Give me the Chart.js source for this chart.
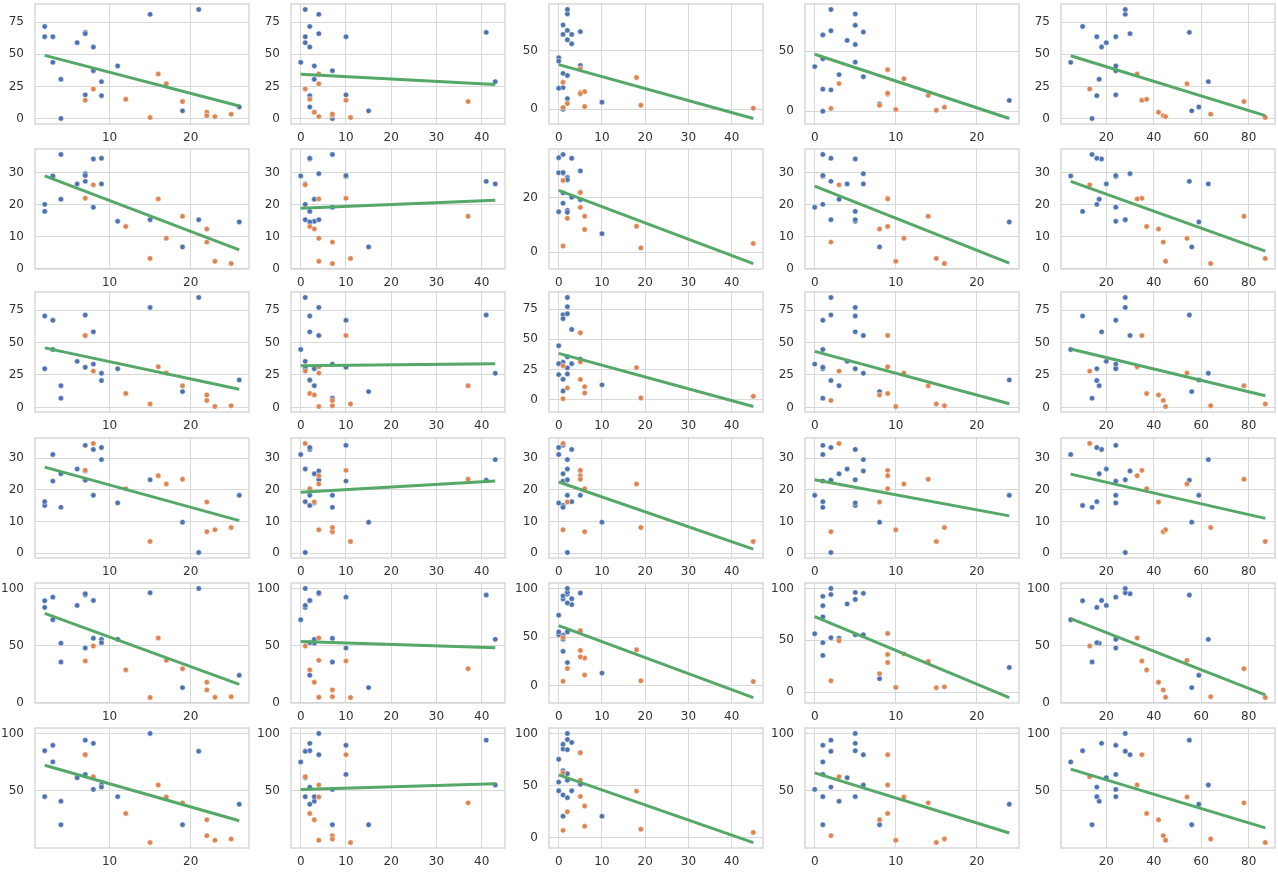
<!DOCTYPE html>
<html><head><meta charset="utf-8">
<script src="https://cdn.jsdelivr.net/npm/chart.js@4.4.1/dist/chart.umd.min.js"></script>
<style>
html,body{margin:0;padding:0;background:#fff;overflow:hidden;width:1278px;height:875px;position:relative}
canvas{position:absolute}
</style></head><body>
<script>
// ---- data: 19 blue points, 11 orange points; 5 x variables (columns), 6 y variables (rows)
const blueX1 = [2,2,3,3,4,4,6,7,7,7,8,8,9,9,11,15,19,21,26];
const blueX2 = [2,1,10,0,3,7,1,41,4,10,2,7,43,2,3,4,15,1,2];
const blueX3 = [1,3,1,0,1,1,2,2,5,1,3,5,2,0,0,2,10,2,2];
const blueX4 = [5,1,1,1,3,1,4,2,6,1,5,0,6,2,5,5,8,2,24];
const blueX5 = [10,16,24,5,17,14,20,55,30,24,18,24,63,16,24,28,56,28,59];
const blueY1 = [71.6,63.6,63.6,43.7,30.5,0,59,67,66,18.4,55.6,37.2,28.7,17.8,40.9,81,6,84.8,9];
const blueY2 = [17.9,20.1,28.8,29,21.7,35.7,26.5,27.3,29.7,29.1,34.3,19.2,26.5,34.5,14.8,15.3,6.8,15.3,14.6];
const blueY3 = [70.4,29.8,67.1,44.6,16.8,7.1,35.5,71.2,55.4,30.9,58.2,33.4,26.3,20.7,29.8,77,12.2,84.7,21.2];
const blueY4 = [15.1,16.3,22.8,31.2,25.1,14.5,26.6,23.1,26,34.1,32.8,18.3,29.6,33.4,15.9,23.2,9.8,0.2,18.3];
const blueY5 = [89.2,83.4,92.4,72.6,52,35.5,85.1,94.2,95.3,47.8,89.5,56.3,55.4,52.5,55.4,96.2,13.1,100,23.9];
const blueY6 = [85,45.1,89.7,75.3,41.1,20.7,61.5,94.2,81.5,64.4,91.4,51.4,55.2,53.4,45.1,100,20.7,84.5,38.5];

const orangeX1 = [7,8,12,15,16,17,19,22,22,23,25];
const orangeX2 = [10,1,2,11,4,4,37,3,7,4,7];
const orangeX3 = [5,1,6,45,5,18,5,2,6,1,19];
const orangeX4 = [9,3,9,15,9,11,14,8,2,10,16];
const orangeX5 = [35,13,37,87,33,54,78,42,44,45,64];
const orangeY1 = [14.2,23,15,0.8,34.6,27,13.2,4.9,2.3,1.5,3.4];
const orangeY2 = [22,26.2,13.2,3.2,21.8,9.5,16.4,12.4,8.3,2.3,1.6];
const orangeY3 = [55.4,28,10.7,2.7,31.3,26.5,16.7,9.6,5.4,0.7,1.3];
const orangeY4 = [26.2,34.7,20.4,3.7,24.5,21.9,23.4,16.2,6.8,7.4,8.1];
const orangeY5 = [36.4,49.6,28.6,4.4,56.6,37,29.7,17.8,11.1,4.7,5.2];
const orangeY6 = [81.6,62.4,30.5,5.2,55.2,44.8,39.7,25,11.2,7.2,8.3];

// regression line values at the left and right end of each panel (row by row, 5 columns)
const lineStartRow1 = [49.1,34.4,37.9,47.5,48.8];
const lineEndRow1   = [9.8,26.4,-7.9,-6.1,2.3];
const lineStartRow2 = [29,18.9,22.6,25.8,27.3];
const lineEndRow2   = [5.9,21.4,-4.1,1.7,5.5];
const lineStartRow3 = [45.9,32.1,38.3,43.2,45];
const lineEndRow3   = [14,33.7,-5.8,2.8,9];
const lineStartRow4 = [27.2,19.3,22.5,23.2,25];
const lineEndRow4   = [10.3,22.8,1.3,11.8,11];
const lineStartRow5 = [78.1,53.6,61.9,72.8,73.5];
const lineEndRow5   = [16,48.1,-12,-5.1,6.8];
const lineStartRow6 = [72.4,51.4,60.4,65.8,69];
const lineEndRow6   = [24.1,56.3,-4.5,13.5,18];

// tick spacing
const xTickStep = [10,10,10,10,20];
const yTickStepRow1 = [25,25,50,50,25];
const yTickStepRow2 = [10,10,20,10,10];
const yTickStepRow3 = [25,25,25,25,25];
const yTickStepRow4 = [10,10,10,10,10];
const yTickStepRow5 = [50,50,50,50,50];
const yTickStepRow6 = [50,50,50,50,50];

// ---- assembly
const blueXs = [blueX1,blueX2,blueX3,blueX4,blueX5];
const orangeXs = [orangeX1,orangeX2,orangeX3,orangeX4,orangeX5];
const blueYs = [blueY1,blueY2,blueY3,blueY4,blueY5,blueY6];
const orangeYs = [orangeY1,orangeY2,orangeY3,orangeY4,orangeY5,orangeY6];
const lineStarts = [lineStartRow1,lineStartRow2,lineStartRow3,lineStartRow4,lineStartRow5,lineStartRow6];
const lineEnds = [lineEndRow1,lineEndRow2,lineEndRow3,lineEndRow4,lineEndRow5,lineEndRow6];
const yTickSteps = [yTickStepRow1,yTickStepRow2,yTickStepRow3,yTickStepRow4,yTickStepRow5,yTickStepRow6];

const BLUE = '#4c72b0', ORANGE = '#dd8452', GREEN = '#55a868';
const GRID = '#d9d9d9', EDGE = '#d0d0d0', TXT = '#333333';
const plotLefts = [35, 291, 549, 805, 1061];
const plotTops = [4, 149, 292, 438, 583, 728];
const PW = 214, PH = 120, YW = 34, TOPPAD = 8, RIGHTPAD = 12, XH = 24;

function ticksFor(min, max, step) {
  const out = [];
  for (let v = Math.ceil(min / step - 1e-9) * step; v <= max + 1e-9; v += step) out.push({value: Math.round(v*1000)/1000});
  return out;
}

const framePlugin = {
  id: 'frame',
  beforeDatasetsDraw(chart) {
    const a = chart.chartArea, ctx = chart.ctx;
    ctx.save();
    ctx.strokeStyle = EDGE;
    ctx.lineWidth = 1.25;
    ctx.strokeRect(a.left, a.top, a.right - a.left, a.bottom - a.top);
    ctx.restore();
  }
};

for (let r = 0; r < 6; r++) {
  for (let c = 0; c < 5; c++) {
    const bx = blueXs[c], ox = orangeXs[c], by = blueYs[r], oy = orangeYs[r];
    const blue = bx.map((x, i) => ({x, y: by[i]}));
    const orange = ox.map((x, i) => ({x, y: oy[i]}));
    const xs = bx.concat(ox);
    const xmin = Math.min(...xs), xmax = Math.max(...xs);
    const y0 = lineStarts[r][c], y1 = lineEnds[r][c];
    const line = [{x: xmin, y: y0}, {x: xmax, y: y1}];
    const ys = by.concat(oy, [y0, y1]);
    const ymin = Math.min(...ys), ymax = Math.max(...ys);
    const xpad = (xmax - xmin) * 0.05, ypad = (ymax - ymin) * 0.05;
    const xr = [xmin - xpad, xmax + xpad], yr = [ymin - ypad, ymax + ypad];

    const cv = document.createElement('canvas');
    const W = YW + PW + RIGHTPAD, H = TOPPAD + PH + XH;
    cv.width = W; cv.height = H;
    cv.style.width = W + 'px'; cv.style.height = H + 'px';
    cv.style.left = (plotLefts[c] - YW) + 'px';
    cv.style.top = (plotTops[r] - TOPPAD) + 'px';
    document.body.appendChild(cv);

    const font = {family: 'DejaVu Sans', size: 12};
    new Chart(cv, {
      type: 'scatter',
      data: {
        datasets: [
          {type: 'line', data: line, borderColor: GREEN, borderWidth: 3, pointRadius: 0, fill: false, order: 0, tension: 0},
          {data: orange, backgroundColor: ORANGE, borderColor: '#ffffff', borderWidth: 0.5, pointRadius: 2.7, order: 1},
          {data: blue, backgroundColor: BLUE, borderColor: '#ffffff', borderWidth: 0.5, pointRadius: 2.7, order: 2}
        ]
      },
      options: {
        responsive: false, animation: false, devicePixelRatio: 1,
        layout: {padding: {top: TOPPAD, right: RIGHTPAD, left: 0, bottom: 0}},
        plugins: {legend: {display: false}, tooltip: {enabled: false}},
        scales: {
          x: {
            type: 'linear', min: xr[0], max: xr[1],
            grid: {color: GRID, lineWidth: 1, drawTicks: false},
            border: {display: false},
            ticks: {color: TXT, font, padding: 7, maxRotation: 0},
            afterBuildTicks: s => { s.ticks = ticksFor(xr[0], xr[1], xTickStep[c]); },
            afterFit: s => { s.height = XH; s.paddingLeft = 0; s.paddingRight = 0; }
          },
          y: {
            type: 'linear', min: yr[0], max: yr[1],
            grid: {color: GRID, lineWidth: 1, drawTicks: false},
            border: {display: false},
            ticks: {color: TXT, font, padding: 11},
            afterBuildTicks: s => { s.ticks = ticksFor(yr[0], yr[1], yTickSteps[r][c]); },
            afterFit: s => { s.width = YW; s.paddingTop = 0; s.paddingBottom = 0; }
          }
        }
      },
      plugins: [framePlugin]
    });
  }
}
</script>
</body></html>
